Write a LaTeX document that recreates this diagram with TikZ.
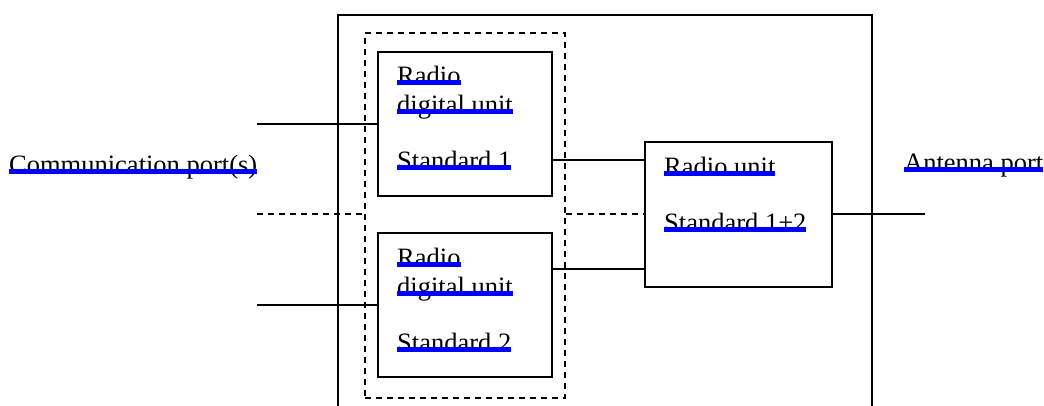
\documentclass[tikz,border=0pt]{standalone}
\usepackage{fontspec}
\setmainfont{Liberation Serif}
\newcommand{\barred}[1]{\setbox0\hbox{#1}\rlap{\copy0}\textcolor{blue}{\rule[-0.5pt]{\wd0}{5pt}}}

\tikzset{
  box/.style={draw, line width=1.8pt, anchor=north west, inner sep=0pt},
  dbox/.style={box, dash pattern=on 6pt off 5pt},
  lbl/.style={anchor=base west, inner sep=0pt, font=\fontsize{26.5}{29}\selectfont},
  wire/.style={line width=1.8pt},
  dwire/.style={wire, dash pattern=on 6pt off 5pt}
}

\begin{document}
\begin{tikzpicture}[x=1pt, y=-1pt]
\clip (0,0) rectangle (1044,406);
% boxes
\node[box, minimum width=534pt, minimum height=430pt] (sys) at (337,14) {};
\node[dbox, minimum width=200pt, minimum height=365pt] (du) at (364,32) {};
\node[box, minimum width=174pt, minimum height=144pt] (rdu1) at (377,51) {};
\node[box, minimum width=174pt, minimum height=144pt] (rdu2) at (377,232) {};
\node[box, minimum width=187pt, minimum height=145pt] (ru) at (644,141) {};

% labels
\node[lbl] (rdu1a) at ([shift={(20,34)}]rdu1.north west) {\barred{Radio}};
\node[lbl] (rdu1b) at ([shift={(20,63)}]rdu1.north west) {\barred{digital unit}};
\node[lbl] (rdu1c) at ([shift={(20,119)}]rdu1.north west) {\barred{Standard 1}};
\node[lbl] (rdu2a) at ([shift={(20,34)}]rdu2.north west) {\barred{Radio}};
\node[lbl] (rdu2b) at ([shift={(20,63)}]rdu2.north west) {\barred{digital unit}};
\node[lbl] (rdu2c) at ([shift={(20,119)}]rdu2.north west) {\barred{Standard 2}};
\node[lbl] (rua) at ([shift={(20,35)}]ru.north west) {\barred{Radio unit}};
\node[lbl] (rub) at ([shift={(20,91)}]ru.north west) {\barred{Standard 1+2}};
\node[lbl] (comm) at (9,173.5) {\barred{Communication port(s)}};
\node[lbl] (ant) at (904,172) {\barred{Antenna port}};

% ports
\coordinate (cpx) at (257,0);
\coordinate (apx) at (925,0);

% connectors
\draw[wire] (cpx |- rdu1.west) -- (rdu1.west);
\draw[wire] (cpx |- rdu2.west) -- (rdu2.west);
\draw[dwire] (cpx |- ru.west) -- (du.west |- ru.west);
\draw[dwire] (du.east |- ru.west) -- (ru.west);
\draw[wire] (rdu1.east |- ru.150) -- (ru.150);
\draw[wire] (rdu2.east |- ru.210) -- (ru.210);
\draw[wire] (ru.east) -- (apx |- ru.east);
\end{tikzpicture}
\end{document}
